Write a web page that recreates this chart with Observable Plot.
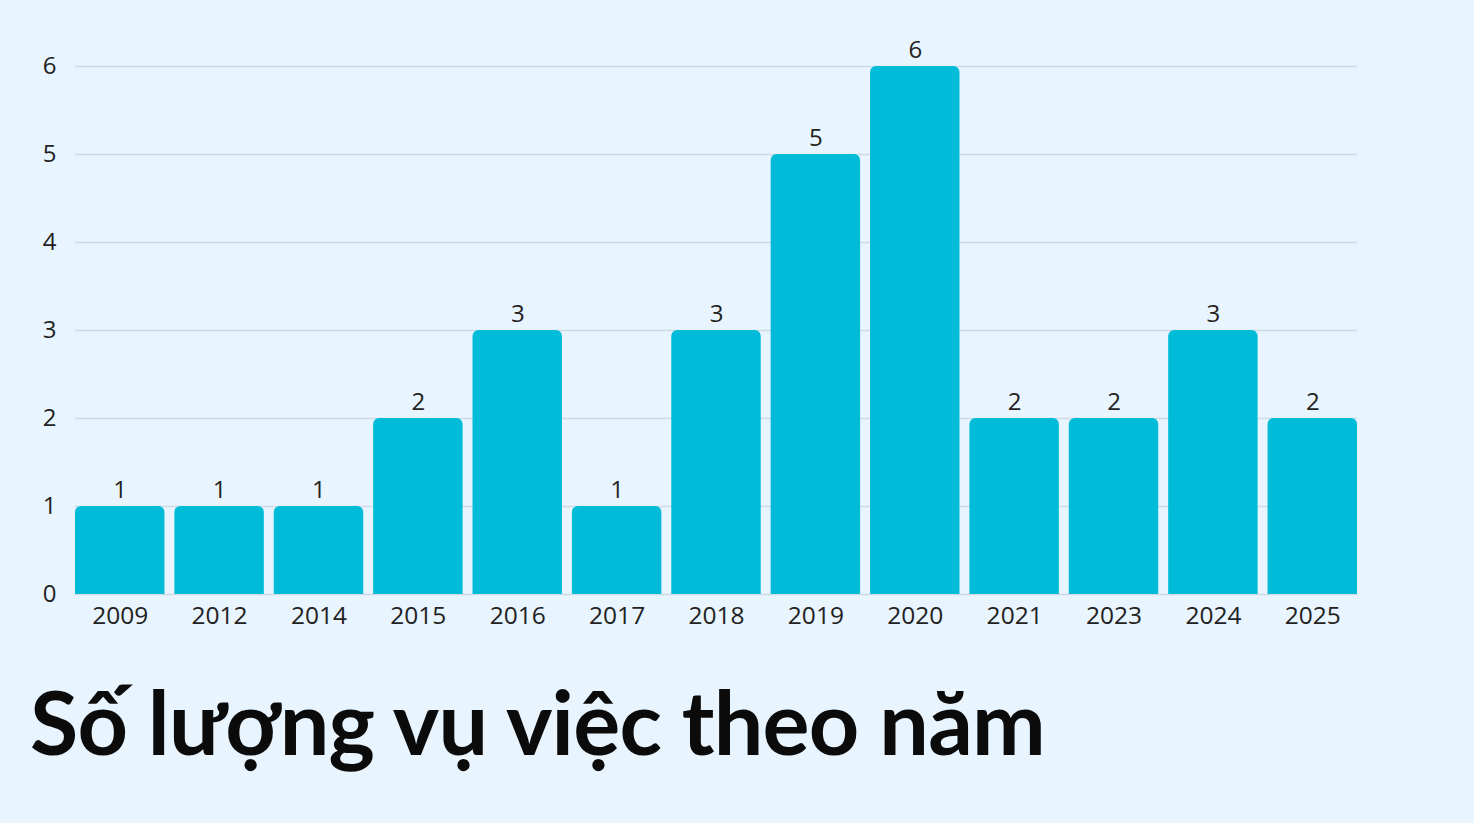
<!DOCTYPE html>
<html>
<head>
<meta charset="utf-8">
<script src="https://cdn.jsdelivr.net/npm/d3@7"></script>
<script src="https://cdn.jsdelivr.net/npm/@observablehq/plot@0.6"></script>
<style>
  html, body { margin: 0; padding: 0; background: #E8F4FE; }
  body { width: 1474px; height: 823px; overflow: hidden; }
  #chart svg { display: block; }
  #title {
    font-family: Lato, "Noto Sans", sans-serif;
    font-weight: 700;
    font-size: 88px;
    color: #0b0b0b;
    margin: 0;
    padding-left: 30px;
    line-height: 1;
    margin-top: 27px;
    letter-spacing: -0.75px;
  }
</style>
</head>
<body>
<div id="chart"></div>
<div id="title">Số lượng vụ việc theo năm</div>
<script>
const years = ["2009","2012","2014","2015","2016","2017","2018","2019","2020","2021","2023","2024","2025"];
const counts = [1,1,1,2,3,1,3,5,6,2,2,3,2];
const yTicks = [0,1,2,3,4,5,6];

const data = years.map((y, i) => ({year: y, count: counts[i]}));

const chart = Plot.plot({
  width: 1474,
  height: 650,
  marginTop: 66,
  marginLeft: 75,
  marginRight: 117,
  marginBottom: 56,
  style: {background: "transparent", fontFamily: "'Open Sans', 'Noto Sans', sans-serif", fontSize: "24px", color: "#222"},
  x: {domain: years, paddingInner: 0.1, paddingOuter: 0, round: false, label: null},
  y: {domain: [0, 6], label: null},
  marks: [
    Plot.gridY(yTicks, {stroke: "#cfdae3", strokeOpacity: 1, strokeWidth: 1.5}),
    Plot.barY(data, {x: "year", y: "count", fill: "#00BCD9", ry1: 6}),
    Plot.text(data, {x: "year", y: "count", text: d => String(d.count), dy: -16, fill: "#222", fontSize: 24}),
    Plot.axisX({tickSize: 0, tickPadding: 12, fontSize: 24.5, label: null}),
    Plot.axisY({ticks: yTicks, tickFormat: "d", tickSize: 0, tickPadding: 19, fontSize: 24, label: null})
  ]
});
document.getElementById("chart").appendChild(chart);
</script>
</body>
</html>
